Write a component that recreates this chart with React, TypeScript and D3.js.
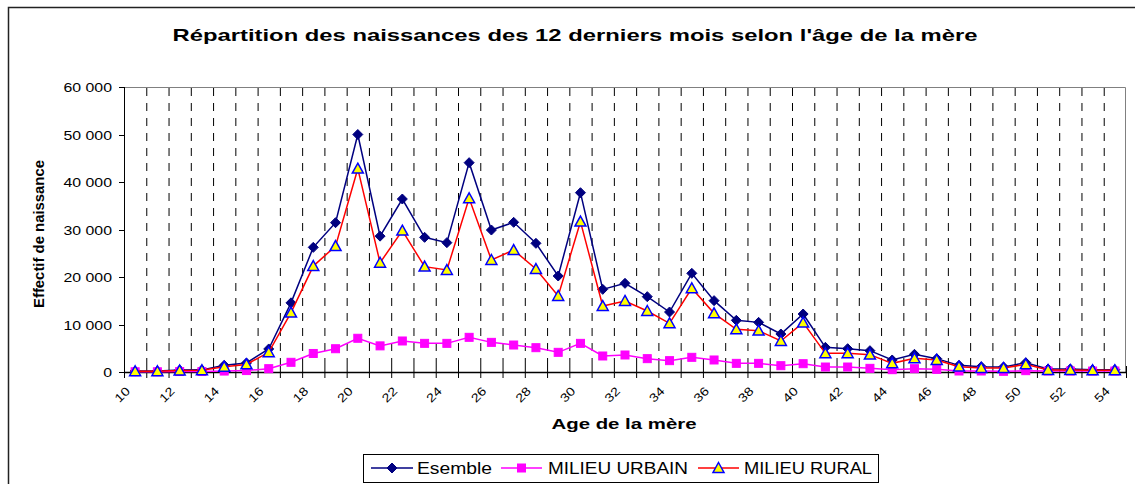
import React from "react";
import * as d3 from "d3";

const ages = d3.range(10, 55);
const esemble = [200, 200, 400, 450, 1400, 1900, 4850, 14560, 26240, 31440, 50000, 28600, 36420, 28350, 27230, 44070, 29890, 31510, 27090, 20210, 37750, 17400, 18670, 15860, 12630, 20770, 15020, 10880, 10450, 8000, 12210, 5190, 4910, 4490, 2530, 3720, 2810, 1400, 1120, 1050, 1960, 630, 630, 500, 500];
const urbain = [50, 50, 100, 100, 200, 300, 700, 2040, 3900, 4900, 7100, 5500, 6530, 6030, 6030, 7300, 6240, 5680, 5120, 4140, 6030, 3370, 3580, 2810, 2390, 3090, 2530, 1820, 1820, 1330, 1750, 1050, 1050, 770, 490, 700, 560, 210, 210, 140, 280, 210, 200, 200, 200];
const rural = [150, 150, 300, 350, 1100, 1600, 4150, 12500, 22300, 26500, 42800, 23000, 29750, 22180, 21470, 36560, 23580, 25680, 21680, 16000, 31650, 13890, 14950, 12840, 10240, 17610, 12350, 8980, 8700, 6530, 10390, 3930, 3930, 3650, 1820, 2880, 2530, 1120, 840, 840, 1610, 420, 420, 350, 350];
const yTicks = [0, 10000, 20000, 30000, 40000, 50000, 60000];
const seriesNames = ["Esemble", "MILIEU URBAIN", "MILIEU RURAL"];

const FONT = "'Liberation Sans', Arial, sans-serif";
const L = 124, R = 1126, T = 87, B = 372;

const fmt = (v: number) => d3.format(",")(v).replace(/,/g, " ");
const estW = (s: string, size: number, k: number) => {
  let w = 0;
  for (const ch of s) w += ch === " " ? 0.278 : 0.556;
  return w * size * k;
};

function Marker({ kind, x, y }: { kind: string; x: number; y: number }) {
  if (kind === "diamond") {
    const s = 5;
    return <path d={`M${x},${y - s}L${x + s},${y}L${x},${y + s}L${x - s},${y}Z`} fill="#000080" stroke="#000080" strokeWidth={1} />;
  }
  if (kind === "square") {
    return <rect x={x - 4} y={y - 4} width={8} height={8} fill="#FF00FF" stroke="#FF00FF" strokeWidth={1} />;
  }
  const s = 5.5;
  return <path d={`M${x},${y - s}L${x + s},${y + s * 0.8}L${x - s},${y + s * 0.8}Z`} fill="#FFFF00" stroke="#0000FF" strokeWidth={1.5} />;
}

export default function App() {
  const x = d3.scaleBand<number>().domain(ages).range([L, R]).paddingInner(0).paddingOuter(0);
  const bw = x.bandwidth();
  const cx = (a: number) => (x(a) as number) + bw / 2;
  const y = d3.scaleLinear().domain([0, 60000]).range([B, T]);

  const series = [
    { name: seriesNames[0], data: esemble, color: "#000080", marker: "diamond" },
    { name: seriesNames[1], data: urbain, color: "#FF00FF", marker: "square" },
    { name: seriesNames[2], data: rural, color: "#FF0000", marker: "triangle" },
  ];

  const line = d3.line<number>().x((_, i) => cx(ages[i])).y((d) => y(d));

  const legendItems = [
    { x0: 371, x1: 413, tx: 417, tw: 75, s: series[0] },
    { x0: 501, x1: 542, tx: 548, tw: 140, s: series[1] },
    { x0: 698, x1: 739, tx: 744, tw: 128, s: series[2] },
  ];

  return (
    <svg width={1135} height={484} style={{ position: "absolute", left: 0, top: 0, background: "#fff" }} fontFamily={FONT}>
      <rect x={0} y={0} width={1135} height={484} fill="#fff" />
      <path d="M8.5,490V7.5H1140" fill="none" stroke="#222" strokeWidth={1.5} />

      <text x={575} y={41} textAnchor="middle" fontSize={17} fontWeight="bold" textLength={805} lengthAdjust="spacingAndGlyphs">
        Répartition des naissances des 12 derniers mois selon l'âge de la mère
      </text>

      {/* plot border top/right */}
      <path d={`M${L},${T + 0.5}H${R - 0.5}V${B}`} fill="none" stroke="#808080" strokeWidth={1} />

      {/* vertical dashed gridlines */}
      {ages.slice(1).map((a) => (
        <line key={a} x1={(x(a) as number) + 0.5} x2={(x(a) as number) + 0.5} y1={T + 1} y2={B} stroke="#000" strokeWidth={1} strokeDasharray="8,7" />
      ))}

      {/* axes */}
      <line x1={L + 0.5} x2={L + 0.5} y1={T} y2={B} stroke="#000" strokeWidth={1} />
      <line x1={L} x2={R} y1={B + 0.5} y2={B + 0.5} stroke="#000" strokeWidth={1.5} />

      {yTicks.map((t) => (
        <g key={t}>
          <line x1={L - 5} x2={L} y1={Math.round(y(t)) + 0.5} y2={Math.round(y(t)) + 0.5} stroke="#000" />
          <text x={112} y={y(t) + 5} textAnchor="end" fontSize={13} textLength={estW(fmt(t), 13, 1.22)} lengthAdjust="spacingAndGlyphs">
            {fmt(t)}
          </text>
        </g>
      ))}

      {ages.concat([55]).map((a, i) => {
        const bx = L + i * bw;
        return <line key={"tk" + a} x1={bx + 0.5} x2={bx + 0.5} y1={B - 6} y2={B + 6} stroke="#000" />;
      })}

      {ages.filter((a) => a % 2 === 0).map((a) => {
        const bx = (x(a) as number) + 1;
        const by = 386;
        return (
          <text key={"xl" + a} x={bx} y={by} textAnchor="end" fontSize={12} transform={`rotate(-45 ${bx} ${by})`} textLength={16} lengthAdjust="spacingAndGlyphs" dy="0.7em">
            {a}
          </text>
        );
      })}

      <text x={624} y={429} textAnchor="middle" fontSize={15} fontWeight="bold" textLength={145} lengthAdjust="spacingAndGlyphs">
        Age de la mère
      </text>
      <text transform="translate(44,234) rotate(-90)" textAnchor="middle" fontSize={14} fontWeight="bold" textLength={148} lengthAdjust="spacingAndGlyphs">
        Effectif de naissance
      </text>

      {series.map((s) => (
        <g key={s.name}>
          <path d={line(s.data) || ""} fill="none" stroke={s.color} strokeWidth={1.5} />
          {s.data.map((v, i) => (
            <Marker key={i} kind={s.marker} x={cx(ages[i])} y={y(v)} />
          ))}
        </g>
      ))}

      {/* legend */}
      <rect x={363.5} y={454.5} width={515} height={28} fill="#fff" stroke="#000" strokeWidth={1} />
      {legendItems.map((it) => (
        <g key={it.s.name}>
          <line x1={it.x0} x2={it.x1} y1={468} y2={468} stroke={it.s.color} strokeWidth={1.5} />
          <Marker kind={it.s.marker} x={(it.x0 + it.x1) / 2} y={468} />
          <text x={it.tx} y={474} fontSize={16} textLength={it.tw} lengthAdjust="spacingAndGlyphs">
            {it.s.name}
          </text>
        </g>
      ))}
    </svg>
  );
}
